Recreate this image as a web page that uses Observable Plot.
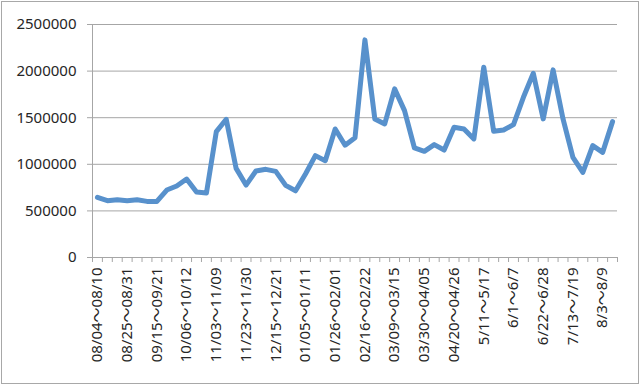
<!DOCTYPE html>
<html><head><meta charset="utf-8">
<script src="https://cdn.jsdelivr.net/npm/d3@7"></script>
<script src="https://cdn.jsdelivr.net/npm/@observablehq/plot@0.6"></script>
<style>
body{margin:0;background:#fff}
#chart svg{display:block;outline:1px solid #a8a8a8;outline-offset:-2px}
</style>
</head><body><div id="chart"></div>
<script>
const weeks = [
 "08/04〜08/10","08/11〜08/17","08/18〜08/24","08/25〜08/31","09/01〜09/07","09/08〜09/14",
 "09/15〜09/21","09/22〜09/28","09/29〜10/05","10/06〜10/12","10/13〜10/19","10/20〜10/26",
 "11/03〜11/09","11/10〜11/16","11/17〜11/22","11/23〜11/30","12/01〜12/07","12/08〜12/14",
 "12/15〜12/21","12/22〜12/28","12/29〜01/04","01/05〜01/11","01/12〜01/18","01/19〜01/25",
 "01/26〜02/01","02/02〜02/08","02/09〜02/15","02/16〜02/22","02/23〜03/01","03/02〜03/08",
 "03/09〜03/15","03/16〜03/22","03/23〜03/29","03/30〜04/05","04/06〜04/12","04/13〜04/19",
 "04/20〜04/26","4/27〜5/3","5/4〜5/10","5/11〜5/17","5/18〜5/24","5/25〜5/31",
 "6/1〜6/7","6/8〜6/14","6/15〜6/21","6/22〜6/28","6/29〜7/5","7/6〜7/12",
 "7/13〜7/19","7/20〜7/26","7/27〜8/2","8/3〜8/9","8/10〜8/16"
];
const visitors = [
 645000,609000,620000,609000,620000,602000,602000,724000,767000,842000,702000,691000,
 1350000,1483000,956000,777000,928000,946000,924000,774000,716000,896000,1093000,1039000,
 1379000,1205000,1286000,2335000,1487000,1433000,1809000,1576000,1175000,1139000,1211000,1153000,
 1397000,1379000,1272000,2042000,1354000,1368000,1426000,1719000,1977000,1487000,2013000,1487000,
 1075000,913000,1200000,1128000,1458000
];
const yTicks = [0, 500000, 1000000, 1500000, 2000000, 2500000];
const labelEvery = 3;

const data = weeks.map((w, i) => ({i, week: w, value: visitors[i]}));
const labelIdx = d3.range(0, weeks.length, labelEvery);
const gray = "#a6a6a6";

const chart = Plot.plot({
  width: 640, height: 385,
  marginTop: 24, marginBottom: 128, marginLeft: 92, marginRight: 23,
  style: {fontFamily: "'Noto Sans','Noto Sans CJK JP',sans-serif", fontSize: "15px", color: "#262626", background: "#fff"},
  x: {type: "linear", domain: [-0.5, weeks.length - 0.5], label: null},
  y: {domain: [0, 2500000], label: null},
  marks: [
    Plot.gridY(yTicks, {stroke: gray, strokeOpacity: 1}),
    Plot.ruleX([-0.5], {stroke: gray}),
    Plot.axisY(yTicks, {tickSize: 5, tickPadding: 11, tickFormat: d => String(d), stroke: gray, label: null}),
    Plot.axisX(d3.range(-0.5, weeks.length), {tickSize: 5, tickFormat: () => "", stroke: gray, label: null}),
    Plot.axisX(labelIdx, {tickSize: 0, tickPadding: 10, tickRotate: -90, tickFormat: i => weeks[i], label: null}),
    Plot.line(data, {x: "i", y: "value", stroke: "#5891cc", strokeWidth: 5, strokeLinejoin: "round", strokeLinecap: "round"})
  ]
});
document.getElementById("chart").append(chart);
</script>
</body></html>
